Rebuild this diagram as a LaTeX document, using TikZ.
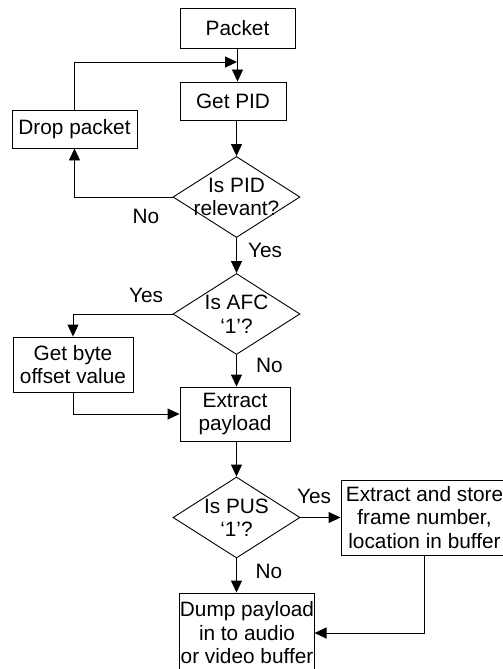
\documentclass[tikz,border=0pt]{standalone}
\usepackage{fontspec}
\setmainfont{Liberation Sans}
\usetikzlibrary{arrows.meta,shapes.geometric}

\tikzset{
    box/.style={draw, line width=0.9pt, align=center, inner sep=0pt},
    decision/.style={diamond, draw, line width=0.9pt, align=center, aspect=1.57, inner sep=-12pt, minimum width=127pt, minimum height=81pt},
    flow/.style={line width=0.9pt, -{Triangle[length=12pt,width=11pt]}},
    tag/.style={inner sep=0pt}
}

\begin{document}
\begin{tikzpicture}[x=1pt, y=-1pt, font=\fontsize{20.8}{23.5}\selectfont]
    \useasboundingbox (0,0) rectangle (503,669);

    \node[box, minimum width=115pt, minimum height=40pt] (packet) at (237.5,28) {Packet};
    \node[box, minimum width=106pt, minimum height=38pt] (getpid) at (233,101) {Get PID};
    \node[box, minimum width=125pt, minimum height=38pt] (drop) at (74.5,129) {Drop packet};
    \node[decision] (pidq) at (236.5,197) {Is PID\\relevant?};
    \node[decision] (afcq) at (236.5,314) {Is AFC\\`1'?};
    \node[box, minimum width=120pt, minimum height=55pt] (byte) at (73,364.5) {Get byte\\offset value};
    \node[box, minimum width=110pt, minimum height=54pt] (payload) at (235,414) {Extract\\payload};
    \node[decision] (pusq) at (236.5,517.5) {Is PUS\\`1'?};
    \node[box, minimum width=167pt, minimum height=75pt] (store) at (424.5,517.5) {Extract and store\\frame number,\\location in buffer};
    \node[box, minimum width=134pt, minimum height=80pt] (dump) at (247,633) {Dump payload\\in to audio\\or video buffer};
    \coordinate (join) at (237,62);

    \node[tag] (no1) at (146,216) {No};
    \node[tag] (yes1) at (265,250) {Yes};
    \node[tag] (yes2) at (146,295) {Yes};
    \node[tag] (no2) at (269.5,365) {No};
    \node[tag] (yes3) at (314,496.5) {Yes};
    \node[tag] (no3) at (269,571.5) {No};

    \draw[flow] (packet.south) -- (packet.south |- getpid.north);
    \draw[flow] (drop.north) |- (join);
    \draw[flow] (pidq.north |- getpid.south) -- (pidq.north);
    \draw[flow] (pidq.west) -| (drop.south);
    \draw[flow] (pidq.south) -- (afcq.north);
    \draw[flow] (afcq.west) -| (byte.north);
    \draw[flow] (afcq.south) -- (afcq.south |- payload.north);
    \draw[flow] (byte.south) |- (payload.west);
    \draw[flow] (pusq.north |- payload.south) -- (pusq.north);
    \draw[flow] (pusq.east) -- (store.west);
    \draw[flow] (pusq.south) -- (pusq.south |- dump.north);
    \draw[flow] (store.south) |- (dump.east);
\end{tikzpicture}
\end{document}
